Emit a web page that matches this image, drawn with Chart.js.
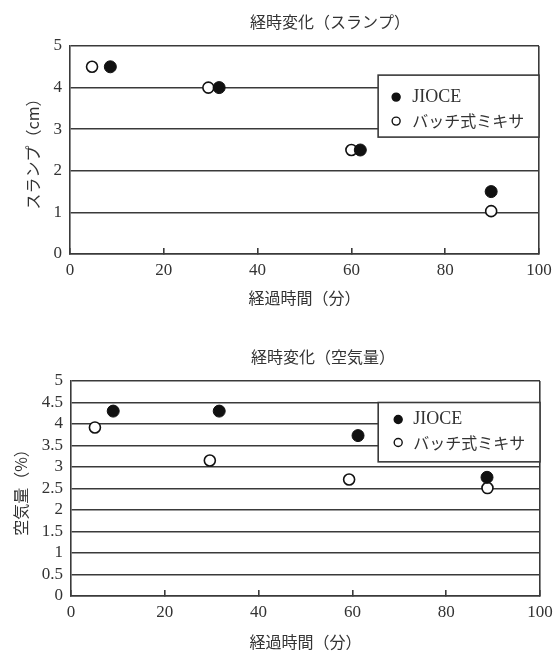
<html>
    <head>
        <script src="https://cdn.jsdelivr.net/npm/chart.js@4.4.0/dist/chart.umd.min.js"></script>
        <style>
            body { margin: 0; background: #fff; }
            canvas { display: block; }
        </style>
    </head>
    <body>
        <canvas id="slumpChart" width="554" height="330"></canvas>
        <canvas id="airChart" width="554" height="322"></canvas>

        <script>
            // series names (legend)
            var seriesNames = ['JIOCE', 'バッチ式ミキサ'];

            // スランプ: 経過時間(分) / スランプ(cm)
            var slumpJioceX = [8.6, 31.8, 61.9, 89.8];
            var slumpJioceY = [4.5, 4.0, 2.5, 1.5];
            var slumpBatchX = [4.7, 29.5, 60.0, 89.8];
            var slumpBatchY = [4.5, 4.0, 2.5, 1.03];

            // 空気量: 経過時間(分) / 空気量(%)
            var airJioceX = [9.0, 31.6, 61.2, 88.7];
            var airJioceY = [4.3, 4.3, 3.73, 2.76];
            var airBatchX = [5.1, 29.6, 59.3, 88.8];
            var airBatchY = [3.92, 3.15, 2.71, 2.51];

            // tick labels
            var timeTicks = [0, 20, 40, 60, 80, 100];
            var slumpTicks = [0, 1, 2, 3, 4, 5];
            var airTicks = [0, 0.5, 1, 1.5, 2, 2.5, 3, 3.5, 4, 4.5, 5];

            var lineColor = '#3a3a3a';
            var textColor = '#333';
            var numFont = { family: "'Liberation Serif', 'DejaVu Serif', serif", size: 17 };
            var jpFont = { family: "'Noto Sans CJK JP', sans-serif", size: 16 };

            function toPoints(xs, ys) {
                return xs.map(function (x, i) { return { x: x, y: ys[i] }; });
            }

            // chart title drawn above the plot
            var boxTitle = {
                id: 'boxTitle',
                afterDraw: function (chart, args, opts) {
                    var ctx = chart.ctx;
                    ctx.save();
                    ctx.fillStyle = textColor;
                    ctx.font = jpFont.size + 'px ' + jpFont.family;
                    ctx.textAlign = 'center';
                    ctx.textBaseline = 'middle';
                    ctx.fillText(opts.text, opts.x, opts.y);
                    ctx.restore();
                }
            };

            // framed legend inside the plot area
            var boxLegend = {
                id: 'boxLegend',
                afterDatasetsDraw: function (chart, args, opts) {
                    var ctx = chart.ctx;
                    var sx = chart.scales.x, sy = chart.scales.y;
                    var left = sx.getPixelForValue(opts.fromX);
                    var right = chart.chartArea.right;
                    var top = sy.getPixelForValue(opts.fromY);
                    var bottom = sy.getPixelForValue(opts.toY);
                    ctx.save();
                    ctx.fillStyle = '#fff';
                    ctx.fillRect(left, top, right - left, bottom - top);
                    ctx.strokeStyle = lineColor;
                    ctx.lineWidth = 1.6;
                    ctx.strokeRect(left, top, right - left, bottom - top);
                    chart.data.datasets.forEach(function (ds, i) {
                        var y = top + opts.rows[i];
                        ctx.beginPath();
                        ctx.arc(left + opts.markX, y, 4, 0, Math.PI * 2);
                        ctx.fillStyle = ds.pointBackgroundColor;
                        ctx.fill();
                        ctx.strokeStyle = ds.pointBorderColor;
                        ctx.lineWidth = 1.4;
                        ctx.stroke();
                        ctx.fillStyle = textColor;
                        ctx.textBaseline = 'middle';
                        ctx.textAlign = 'left';
                        ctx.font = (i === 0 ? '18px ' + numFont.family : jpFont.size + 'px ' + jpFont.family);
                        ctx.fillText(ds.label, left + opts.textX, y);
                    });
                    ctx.restore();
                }
            };

            function buildChart(id, o) {
                var ctx = document.getElementById(id).getContext('2d');
                return new Chart(ctx, {
                    type: 'scatter',
                    data: {
                        datasets: [{
                            label: seriesNames[0],
                            data: toPoints(o.jx, o.jy),
                            pointRadius: 6,
                            pointBackgroundColor: '#111',
                            pointBorderColor: '#111',
                            pointBorderWidth: 1
                        }, {
                            label: seriesNames[1],
                            data: toPoints(o.bx, o.by),
                            pointRadius: 5.5,
                            pointBackgroundColor: '#fff',
                            pointBorderColor: '#111',
                            pointBorderWidth: 1.6
                        }]
                    },
                    options: {
                        responsive: false,
                        animation: false,
                        layout: { padding: { top: o.top, right: o.right, left: 0, bottom: 0 } },
                        plugins: {
                            legend: { display: false },
                            tooltip: { enabled: false },
                            boxTitle: o.title,
                            boxLegend: o.legend
                        },
                        scales: {
                            x: {
                                type: 'linear',
                                min: 0,
                                max: 100,
                                afterBuildTicks: function (s) { s.ticks = timeTicks.map(function (v) { return { value: v }; }); },
                                afterFit: function (s) {
                                    s.height = o.xHeight;
                                    s.paddingLeft = 0;
                                    s.paddingRight = 0;
                                },
                                grid: {
                                    color: function (c) { return c.tick && c.tick.value === 100 ? lineColor : 'rgba(0,0,0,0)'; },
                                    tickColor: lineColor,
                                    tickLength: -6,
                                    lineWidth: 1.6
                                },
                                border: { color: lineColor, width: 1.6 },
                                ticks: { font: numFont, color: textColor, padding: 12, maxRotation: 0, autoSkip: false },
                                title: { display: true, text: '経過時間（分）', font: jpFont, color: textColor, padding: { top: 0, bottom: o.xTitlePad } }
                            },
                            y: {
                                type: 'linear',
                                min: 0,
                                max: 5,
                                afterBuildTicks: function (s) { s.ticks = o.yTicks.map(function (v) { return { value: v }; }); },
                                afterFit: function (s) { s.width = o.yWidth; },
                                grid: { color: lineColor, lineWidth: 1.6, drawTicks: false },
                                border: { color: lineColor, width: 1.6 },
                                ticks: {
                                    font: numFont, color: textColor, padding: 8, autoSkip: false,
                                    callback: function (v) { return String(v); }
                                },
                                title: { display: true, text: o.yTitle, font: jpFont, color: textColor, padding: { top: o.yTitlePad, bottom: 0 } }
                            }
                        }
                    },
                    plugins: [boxTitle, boxLegend]
                });
            }

            buildChart('slumpChart', {
                jx: slumpJioceX, jy: slumpJioceY, bx: slumpBatchX, by: slumpBatchY,
                yTicks: slumpTicks, yTitle: 'スランプ（cm）',
                top: 46, right: 15, yWidth: 70, xHeight: 76, xTitlePad: 22, yTitlePad: 23,
                title: { text: '経時変化（スランプ）', x: 330, y: 22 },
                legend: { fromX: 65.7, fromY: 4.3, toY: 2.81, rows: [22, 46], markX: 18, textX: 34 }
            });

            buildChart('airChart', {
                jx: airJioceX, jy: airJioceY, bx: airBatchX, by: airBatchY,
                yTicks: airTicks, yTitle: '空気量（%）',
                top: 51, right: 14, yWidth: 71, xHeight: 56, xTitlePad: 0, yTitlePad: 11,
                title: { text: '経時変化（空気量）', x: 323, y: 27 },
                legend: { fromX: 65.5, fromY: 4.5, toY: 3.12, rows: [17, 40], markX: 20, textX: 35 }
            });
        </script>
    </body>
</html>
